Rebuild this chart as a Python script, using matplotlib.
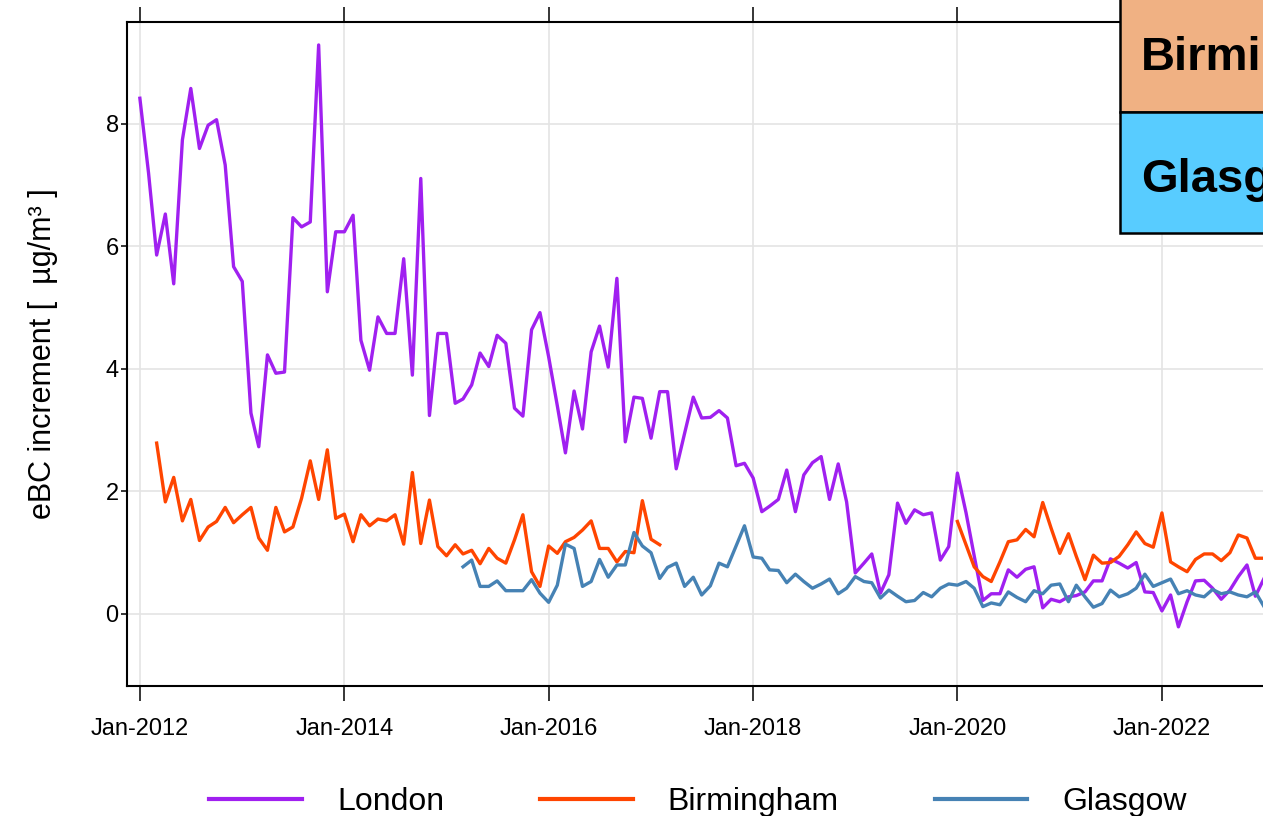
import numpy as np
import pandas as pd
import matplotlib
matplotlib.use('Agg')
import matplotlib.pyplot as plt
import matplotlib.dates as mdates
from matplotlib.patches import Rectangle

plt.rcParams['font.family'] = ['Liberation Sans', 'DejaVu Sans']

# monthly eBC increment, Jan-2012 .. Jan-2023 (None = no data)
months = pd.date_range('2012-01-01', periods=133, freq='MS')

london = [
    8.42, 7.20, 5.86, 6.53, 5.39, 7.74, 8.58, 7.60, 7.98, 8.07, 7.33, 5.67,
    5.43, 3.28, 2.73, 4.23, 3.93, 3.95, 6.47, 6.32, 6.40, 9.29, 5.26, 6.24,
    6.24, 6.51, 4.47, 3.98, 4.85, 4.58, 4.58, 5.80, 3.90, 7.11, 3.24, 4.58,
    4.58, 3.44, 3.51, 3.74, 4.26, 4.04, 4.55, 4.42, 3.36, 3.23, 4.64, 4.92,
    4.20, 3.40, 2.63, 3.64, 3.02, 4.28, 4.70, 4.03, 5.48, 2.81, 3.54, 3.52,
    2.87, 3.63, 3.63, 2.37, 2.95, 3.54, 3.20, 3.21, 3.32, 3.20, 2.42, 2.46,
    2.22, 1.67, 1.76, 1.87, 2.35, 1.67, 2.27, 2.47, 2.57, 1.87, 2.45, 1.83,
    0.67, 0.83, 0.98, 0.34, 0.64, 1.81, 1.48, 1.70, 1.62, 1.65, 0.88, 1.10,
    2.30, 1.65, 0.95, 0.22, 0.33, 0.33, 0.72, 0.60, 0.73, 0.77, 0.10, 0.24,
    0.20, 0.28, 0.30, 0.36, 0.54, 0.54, 0.90, 0.83, 0.75, 0.84, 0.36, 0.35,
    0.05, 0.31, -0.21, 0.20, 0.54, 0.55, 0.42, 0.24, 0.39, 0.61, 0.80, 0.29,
    0.58,
]

birmingham = [
    None, None, 2.79, 1.83, 2.23, 1.52, 1.87, 1.20, 1.42, 1.51, 1.74, 1.49,
    1.62, 1.74, 1.24, 1.04, 1.74, 1.34, 1.42, 1.89, 2.50, 1.87, 2.68, 1.56,
    1.63, 1.18, 1.62, 1.44, 1.55, 1.52, 1.62, 1.14, 2.31, 1.15, 1.86, 1.10,
    0.95, 1.13, 0.98, 1.04, 0.82, 1.07, 0.91, 0.83, 1.21, 1.62, 0.69, 0.45,
    1.11, 0.99, 1.18, 1.25, 1.37, 1.52, 1.07, 1.07, 0.85, 1.02, 1.00, 1.85,
    1.22, 1.13, None, None, None, None, None, None, None, None, None, None,
    None, None, None, None, None, None, None, None, None, None, None, None,
    None, None, None, None, None, None, None, None, None, None, None, None,
    1.51, 1.13, 0.77, 0.61, 0.53, 0.85, 1.18, 1.21, 1.38, 1.26, 1.82, 1.40,
    0.99, 1.31, 0.94, 0.56, 0.96, 0.83, 0.84, 0.94, 1.13, 1.34, 1.15, 1.09,
    1.65, 0.85, 0.77, 0.69, 0.89, 0.98, 0.98, 0.87, 1.00, 1.29, 1.24, 0.91,
    0.91,
]

glasgow = [None] * 38 + [
    0.77, 0.88, 0.45, 0.45, 0.54, 0.38, 0.38, 0.38, 0.56, 0.34,
    0.19, 0.47, 1.14, 1.07, 0.45, 0.53, 0.89, 0.60, 0.80, 0.80, 1.33, 1.11,
    1.00, 0.58, 0.76, 0.83, 0.45, 0.60, 0.31, 0.46, 0.83, 0.77, 1.11, 1.44,
    0.93, 0.91, 0.72, 0.71, 0.51, 0.65, 0.53, 0.42, 0.49, 0.57, 0.33, 0.42,
    0.61, 0.53, 0.51, 0.26, 0.39, 0.29, 0.20, 0.22, 0.35, 0.28, 0.42, 0.49,
    0.47, 0.53, 0.42, 0.12, 0.18, 0.15, 0.36, 0.27, 0.20, 0.38, 0.33, 0.47,
    0.49, 0.20, 0.47, 0.28, 0.11, 0.17, 0.39, 0.28, 0.33, 0.42, 0.65, 0.45,
    0.51, 0.57, 0.33, 0.38, 0.31, 0.28, 0.40, 0.33, 0.36, 0.31, 0.28, 0.36,
    0.12,
]

sites = ['London', 'Birmingham', 'Glasgow']
colors = ['#A020F0', '#FF4500', '#4682B4']
series = [london, birmingham, glasgow]
box_labels = ['Birmingham', 'Glasgow']
box_colors = ['#F0B183', '#58CCFF']
yticks = [0, 2, 4, 6, 8]
xticks = pd.date_range('2012-01-01', '2022-01-01', freq='24MS')

fig = plt.figure(figsize=(12.63, 8.16), dpi=100)
ax = fig.add_axes([127 / 1263, 130 / 816, 0.9541, 664 / 816])

for name, col, vals in zip(sites, colors, series):
    y = np.array([np.nan if v is None else v for v in vals], dtype=float)
    ax.plot(months, y, color=col, lw=2.4, label=name)

ax.set_xlim(pd.Timestamp('2011-11-16'), pd.Timestamp('2023-09-01'))
ax.set_ylim(-1.176, 9.665)
ax.set_yticks(yticks)
ax.set_xticks(xticks)
ax.xaxis.set_major_formatter(mdates.DateFormatter('%b-%Y'))
ax.grid(True, color='#E4E4E4', lw=1.2)
ax.set_axisbelow(True)
for sp in ax.spines.values():
    sp.set_linewidth(1.5)
ax.tick_params(axis='x', direction='out', length=11, width=1.1, pad=12,
               labelsize=17, top=True)
ax.tick_params(axis='y', direction='out', length=4, width=1.1, pad=2,
               labelsize=17)
ax.set_ylabel('eBC increment [  µg/m³ ]', fontsize=22, labelpad=34)

handles = [plt.Line2D([], [], color=c, lw=3) for c in colors]
fig.legend(handles, sites, loc='center', ncol=3, frameon=False,
           bbox_to_anchor=(698 / 1263, 14 / 816), fontsize=23,
           handlelength=2.9, handletextpad=1.1, columnspacing=3.0)

# cut-off boxes in the top right corner
x0 = 1120 / 1263
tops = [1.05, 704 / 816]
bottoms = [704 / 816, 583 / 816]
baselines = [746 / 816, 624 / 816]
for lab, col, top, bot, yb in zip(box_labels, box_colors, tops, bottoms, baselines):
    fig.patches.append(Rectangle((x0, bot), 0.3, top - bot, transform=fig.transFigure,
                                 facecolor=col, edgecolor='black', lw=1.8,
                                 zorder=5))
    fig.text(1141 / 1263, yb, lab, fontsize=34, fontweight='bold',
             va='baseline', ha='left', zorder=6)

fig.savefig('out.png', dpi=100)
